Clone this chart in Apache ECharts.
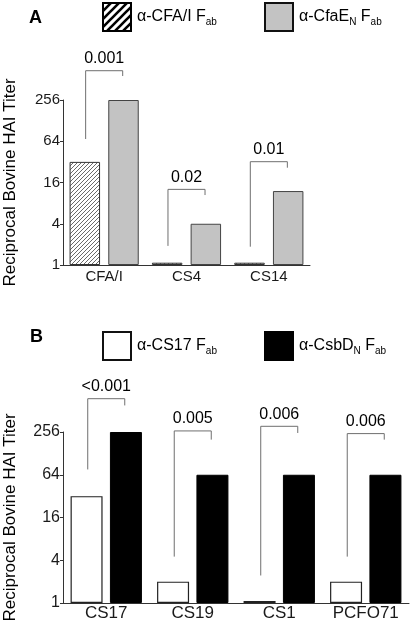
<!DOCTYPE html>
<html>
<head>
<meta charset="utf-8">
<script src="https://cdn.jsdelivr.net/npm/echarts@6/dist/echarts.min.js"></script>
<style>html,body{margin:0;padding:0;background:#fff}#c{width:412px;height:622px}</style>
</head>
<body>
<div id="c"></div>
<script>
// ---- Panel A data ----
const catsA = ['CFA/I', 'CS4', 'CS14'];
const cfaFab = [32, 1.08, 1.08];
const cfaeFab = [256, 4, 12];
const pA = ['0.001', '0.02', '0.01'];
const bracketTopA = [685, 12.7, 32.2];
const bracketLeftA = [69, 1.9, 1.85];
const bracketRightA = [573, 10.5, 26.3];

// ---- Panel B data ----
const catsB = ['CS17', 'CS19', 'CS1', 'PCFO71'];
const cs17Fab = [32, 2, 1.07, 2];
const csbdFab = [256, 64, 64, 64];
const pB = ['<0.001', '0.005', '0.006', '0.006'];
const bracketTopB = [754, 265, 308, 243];
const bracketLeftB = [76, 4.5, 2.44, 4.5];
const bracketRightB = [606, 200, 248, 200];

const yTicks = [1, 4, 16, 64, 256];

const FONT = '"Liberation Sans", Arial, Helvetica, sans-serif';

function makeHatch(size, lw, color) {
  const c = document.createElement('canvas');
  c.width = size; c.height = size;
  const g = c.getContext('2d');
  g.fillStyle = '#fff'; g.fillRect(0, 0, size, size);
  g.strokeStyle = color; g.lineWidth = lw;
  g.beginPath();
  g.moveTo(-1, size + 1); g.lineTo(size + 1, -1);
  g.moveTo(-size / 2 - 1, size / 2 + 1); g.lineTo(size / 2 + 1, -size / 2 - 1);
  g.moveTo(size / 2 - 1, size * 1.5 + 1); g.lineTo(size * 1.5 + 1, size / 2 - 1);
  g.stroke();
  return { image: c, repeat: 'repeat' };
}
const hatchBar = makeHatch(4, 0.8, '#444');
const hatchLegend = makeHatch(8, 2.6, '#000');

const names = {
  a1: 'α-CFA/I Fab', a2: 'α-CfaEN Fab', b1: 'α-CS17 Fab', b2: 'α-CsbDN Fab'
};
const richFmt = {
  'α-CFA/I Fab': '{m|α-CFA/I F}{s|ab}',
  'α-CfaEN Fab': '{m|α-CfaE}{s|N}{m| F}{s|ab}',
  'α-CS17 Fab': '{m|α-CS17 F}{s|ab}',
  'α-CsbDN Fab': '{m|α-CsbD}{s|N}{m| F}{s|ab}'
};
const rich = {
  m: { fontSize: 16, fontFamily: FONT, color: '#000', lineHeight: 20 },
  s: { fontSize: 10, fontFamily: FONT, color: '#000', lineHeight: 14, verticalAlign: 'bottom' }
};
function legendAt(left, top, name, itemStyle) {
  return {
    left: left, top: top, padding: 0, itemWidth: 28, itemHeight: 28, itemGap: 6,
    selectedMode: false, icon: 'rect',
    data: [{ name: name, itemStyle: itemStyle }],
    formatter: n => richFmt[n],
    textStyle: { rich: rich, padding: [0, 0, 0, 1] }
  };
}

function bracketSeries(gridIdx, tops, lefts, rights, labels, off) {
  return {
    type: 'custom', xAxisIndex: gridIdx, yAxisIndex: gridIdx, clip: false, silent: true,
    z: 5,
    data: tops.map((t, i) => [i, t, lefts[i], rights[i]]),
    renderItem: function (params, api) {
      const idx = api.value(0);
      const tv = api.value(1);
      const p = api.coord([idx, tv]);
      const band = api.coord([1, tv])[0] - api.coord([0, tv])[0];
      const yl = api.coord([idx, api.value(2)])[1];
      const yr = api.coord([idx, api.value(3)])[1];
      const xl = p[0] - off * band, xr = p[0] + off * band;
      const label = labels[params.dataIndex];
      return {
        type: 'group',
        children: [
          { type: 'polyline', shape: { points: [[xl, yl], [xl, p[1]], [xr, p[1]], [xr, yr]] },
            style: { stroke: '#6f6f6f', lineWidth: 1, fill: null } },
          { type: 'text', x: (xl + xr) / 2, y: p[1] - 4,
            style: { text: label, align: 'center', verticalAlign: 'bottom',
                     fontSize: 16, fontFamily: FONT, fill: '#000' } }
        ]
      };
    }
  };
}

function yAxisCfg(gridIdx, fs, gap) {
  return {
    type: 'log', logBase: 4, min: 1, max: 256, gridIndex: gridIdx,
    name: 'Reciprocal Bovine HAI Titer', nameLocation: 'middle', nameGap: gap, nameRotate: 90,
    nameTextStyle: { fontSize: 17, fontFamily: FONT, color: '#000' },
    axisLine: { show: true, lineStyle: { color: '#333', width: 1 } },
    axisTick: { show: true, length: 3, lineStyle: { color: '#333' } },
    axisLabel: { fontSize: fs, fontFamily: FONT, color: '#1a1a1a', margin: 3,
                 formatter: v => String(Math.round(v)) },
    splitLine: { show: false }
  };
}
function xAxisCfg(gridIdx, cats, fs, margin) {
  return {
    type: 'category', data: cats, gridIndex: gridIdx,
    axisLine: { lineStyle: { color: '#333', width: 1 } },
    axisTick: { show: false },
    axisLabel: { fontSize: fs, fontFamily: FONT, color: '#1a1a1a', margin: margin, interval: 0 }
  };
}

const chart = echarts.init(document.getElementById('c'), null, { renderer: 'canvas' });
chart.setOption({
  animation: false,
  backgroundColor: '#fff',
  title: [
    { text: 'A', left: 29, top: 9, padding: 0, textStyle: { fontSize: 18, fontWeight: 'bold', fontFamily: FONT, color: '#000' } },
    { text: 'B', left: 30, top: 328, padding: 0, textStyle: { fontSize: 18, fontWeight: 'bold', fontFamily: FONT, color: '#000' } }
  ],
  legend: [
    legendAt(102, 2, names.a1, { color: hatchLegend, borderColor: '#000', borderWidth: 2 }),
    legendAt(264, 2, names.a2, { color: '#c3c3c3', borderColor: '#111', borderWidth: 2 }),
    legendAt(102, 331, names.b1, { color: '#fff', borderColor: '#111', borderWidth: 2 }),
    legendAt(264, 331, names.b2, { color: '#000', borderColor: '#000', borderWidth: 2 })
  ],
  grid: [
    { left: 63, top: 100, width: 247, height: 165, containLabel: false, outerBoundsMode: 'none' },
    { left: 63, top: 432, width: 346, height: 171, containLabel: false, outerBoundsMode: 'none' }
  ],
  xAxis: [xAxisCfg(0, catsA, 15, 4), xAxisCfg(1, catsB, 17, 2)],
  yAxis: [yAxisCfg(0, 15, 44), yAxisCfg(1, 16, 44)],
  series: [
    { name: names.a1, type: 'bar', xAxisIndex: 0, yAxisIndex: 0, data: cfaFab,
      barWidth: '37%', barGap: '27%',
      itemStyle: { color: hatchBar, borderColor: '#333', borderWidth: 1 } },
    { name: names.a2, type: 'bar', xAxisIndex: 0, yAxisIndex: 0, data: cfaeFab,
      barWidth: '37%', barGap: '27%',
      itemStyle: { color: '#c3c3c3', borderColor: '#444', borderWidth: 1 } },
    { name: names.b1, type: 'bar', xAxisIndex: 1, yAxisIndex: 1, data: cs17Fab,
      barWidth: '37%', barGap: '23%',
      itemStyle: { color: '#fff', borderColor: '#222', borderWidth: 1.2 } },
    { name: names.b2, type: 'bar', xAxisIndex: 1, yAxisIndex: 1, data: csbdFab,
      barWidth: '37%', barGap: '23%',
      itemStyle: { color: '#000', borderColor: '#000', borderWidth: 1 } },
    bracketSeries(0, bracketTopA, bracketLeftA, bracketRightA, pA, 0.225),
    bracketSeries(1, bracketTopB, bracketLeftB, bracketRightB, pB, 0.214)
  ]
});
</script>
</body>
</html>
